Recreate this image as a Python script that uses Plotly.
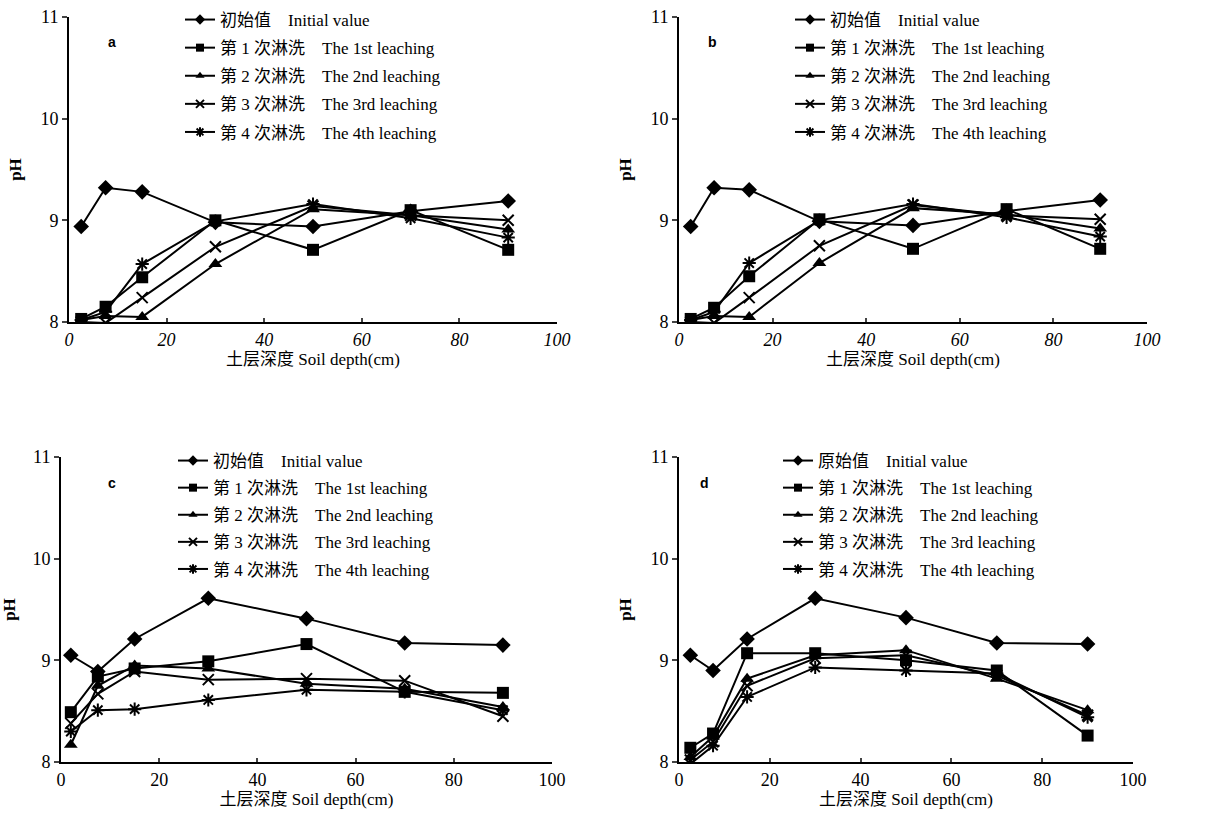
import plotly.graph_objects as go

# ---------------- data ----------------
depth_ab = [2.5, 7.5, 15, 30, 50, 70, 90]
depth_c = [2, 7.5, 15, 30, 50, 70, 90]
depth_d = [2.5, 7.5, 15, 30, 50, 70, 90]

series_names = ["Initial value", "The 1st leaching", "The 2nd leaching",
                "The 3rd leaching", "The 4th leaching"]
cn_names_abc = ["初始值", "第 1 次淋洗", "第 2 次淋洗", "第 3 次淋洗", "第 4 次淋洗"]
cn_names_d = ["原始值", "第 1 次淋洗", "第 2 次淋洗", "第 3 次淋洗", "第 4 次淋洗"]

# panel a
a_initial = [8.94, 9.32, 9.28, 8.98, 8.94, 9.09, 9.19]
a_leach1 = [8.03, 8.15, 8.44, 9.00, 8.71, 9.10, 8.71]
a_leach2 = [8.02, 8.06, 8.05, 8.57, 9.11, 9.05, 8.91]
a_leach3 = [8.00, 7.99, 8.24, 8.74, 9.14, 9.05, 9.00]
a_leach4 = [8.02, 8.10, 8.57, 8.99, 9.16, 9.02, 8.83]

# panel b
b_initial = [8.94, 9.32, 9.30, 8.99, 8.95, 9.09, 9.20]
b_leach1 = [8.03, 8.14, 8.45, 9.01, 8.72, 9.11, 8.72]
b_leach2 = [8.02, 8.06, 8.05, 8.58, 9.12, 9.06, 8.92]
b_leach3 = [8.00, 7.99, 8.24, 8.75, 9.15, 9.05, 9.01]
b_leach4 = [8.02, 8.10, 8.58, 9.00, 9.16, 9.03, 8.84]

# panel c
c_initial = [9.05, 8.89, 9.21, 9.61, 9.41, 9.17, 9.15]
c_leach1 = [8.49, 8.84, 8.92, 8.99, 9.16, 8.69, 8.68]
c_leach2 = [8.17, 8.75, 8.95, 8.92, 8.77, 8.72, 8.54]
c_leach3 = [8.38, 8.67, 8.89, 8.81, 8.82, 8.80, 8.45]
c_leach4 = [8.30, 8.51, 8.52, 8.61, 8.71, 8.69, 8.51]

# panel d
d_initial = [9.05, 8.90, 9.21, 9.61, 9.42, 9.17, 9.16]
d_leach1 = [8.14, 8.28, 9.07, 9.07, 9.00, 8.90, 8.26]
d_leach2 = [8.05, 8.25, 8.82, 9.05, 9.10, 8.82, 8.51]
d_leach3 = [8.02, 8.20, 8.75, 9.02, 9.05, 8.85, 8.46]
d_leach4 = [7.98, 8.16, 8.64, 8.93, 8.90, 8.87, 8.44]

x_ticks = [0, 20, 40, 60, 80, 100]
y_ticks = [8, 9, 10, 11]
panel_letters = ["a", "b", "c", "d"]

# ---------------- styling ----------------
symbols = ["diamond", "square", "triangle-up", "x-thin-open", "asterisk-open"]
data_sizes = [12, 12, 12, 11, 11]
legend_sizes = [8, 8, 8, 8, 8]
SERIF = "Liberation Serif, Times New Roman, Noto Sans CJK SC, serif"
NBSP = "\u00a0"
W, H = 1209, 836


def marker(j, size):
    m = dict(symbol=symbols[j], size=size, color="black")
    if "open" in symbols[j]:
        m["line"] = dict(width=2, color="black")
    return m


panels = [
    dict(depth=depth_ab, data=[a_initial, a_leach1, a_leach2, a_leach3, a_leach4],
         cn=cn_names_abc, xdom=[69/W, 557/W], ydom=[1-322/H, 1-17/H], italic=True, gap=3),
    dict(depth=depth_ab, data=[b_initial, b_leach1, b_leach2, b_leach3, b_leach4],
         cn=cn_names_abc, xdom=[679/W, 1147/W], ydom=[1-322/H, 1-17/H], italic=True, gap=3),
    dict(depth=depth_c, data=[c_initial, c_leach1, c_leach2, c_leach3, c_leach4],
         cn=cn_names_abc, xdom=[61/W, 552/W], ydom=[1-762/H, 1-457/H], italic=False, gap=2),
    dict(depth=depth_d, data=[d_initial, d_leach1, d_leach2, d_leach3, d_leach4],
         cn=cn_names_d, xdom=[679/W, 1133/W], ydom=[1-762/H, 1-457/H], italic=False, gap=2),
]

legend_pos = [(180, 2), (790, 2), (173, 443), (778, 443)]
letter_pos = [(112, 42), (712, 42), (112, 483), (705, 483)]

fig = go.Figure()
layout = dict(
    width=W, height=H,
    margin=dict(l=0, r=0, t=0, b=0, autoexpand=False),
    plot_bgcolor="white", paper_bgcolor="white",
    font=dict(family=SERIF, size=17, color="black"),
    annotations=[],
)

for i, p in enumerate(panels):
    k = "" if i == 0 else str(i + 1)
    lg = "legend" + k
    for j in range(5):
        fig.add_trace(go.Scatter(
            x=p["depth"], y=p["data"][j],
            mode="lines+markers",
            name=series_names[j],
            line=dict(color="black", width=2),
            marker=marker(j, data_sizes[j]),
            xaxis="x" + k, yaxis="y" + k,
            showlegend=False, legendgroup=f"p{i}s{j}",
        ))
        # legend sample (no data, legend entry only)
        fig.add_trace(go.Scatter(
            x=[None], y=[None],
            mode="lines+markers",
            name=p["cn"][j] + NBSP * 4 + series_names[j],
            line=dict(color="black", width=2),
            marker=marker(j, legend_sizes[j]),
            xaxis="x" + k, yaxis="y" + k,
            legend=lg, legendgroup=f"p{i}s{j}",
        ))
    tf = dict(family=SERIF, size=18)
    if p["italic"]:
        tf["style"] = "italic"
    layout["xaxis" + k] = dict(
        domain=p["xdom"], anchor="y" + k, range=[0, 100],
        tickvals=x_ticks, ticks="inside", ticklen=4, tickwidth=2,
        showline=True, linecolor="black", linewidth=2,
        showgrid=False, zeroline=False,
        tickfont=tf,
        title=dict(text="土层深度 Soil depth(cm)", standoff=4,
                   font=dict(family=SERIF, size=17)),
    )
    layout["yaxis" + k] = dict(
        domain=p["ydom"], anchor="x" + k, range=[8, 11],
        tickvals=y_ticks, ticks="outside", ticklen=5, tickwidth=2,
        showline=True, linecolor="black", linewidth=2,
        showgrid=False, zeroline=False,
        tickfont=dict(family=SERIF, size=18),
        title=dict(text="<b>pH</b>", standoff=14, font=dict(family=SERIF, size=17)),
    )
    lx, ly = legend_pos[i]
    layout[lg] = dict(
        x=lx/W, y=1-ly/H, xanchor="left", yanchor="top",
        bgcolor="rgba(0,0,0,0)", borderwidth=0,
        font=dict(family=SERIF, size=17),
        tracegroupgap=p["gap"],
        itemwidth=30,
    )
    px_, py_ = letter_pos[i]
    layout["annotations"].append(dict(
        text="<b>" + panel_letters[i] + "</b>", x=px_/W, y=1-py_/H,
        xref="paper", yref="paper", showarrow=False,
        xanchor="center", yanchor="middle",
        font=dict(family="Liberation Sans, Arial, sans-serif", size=14),
    ))

fig.update_layout(**layout)
fig.write_html("out.html")
